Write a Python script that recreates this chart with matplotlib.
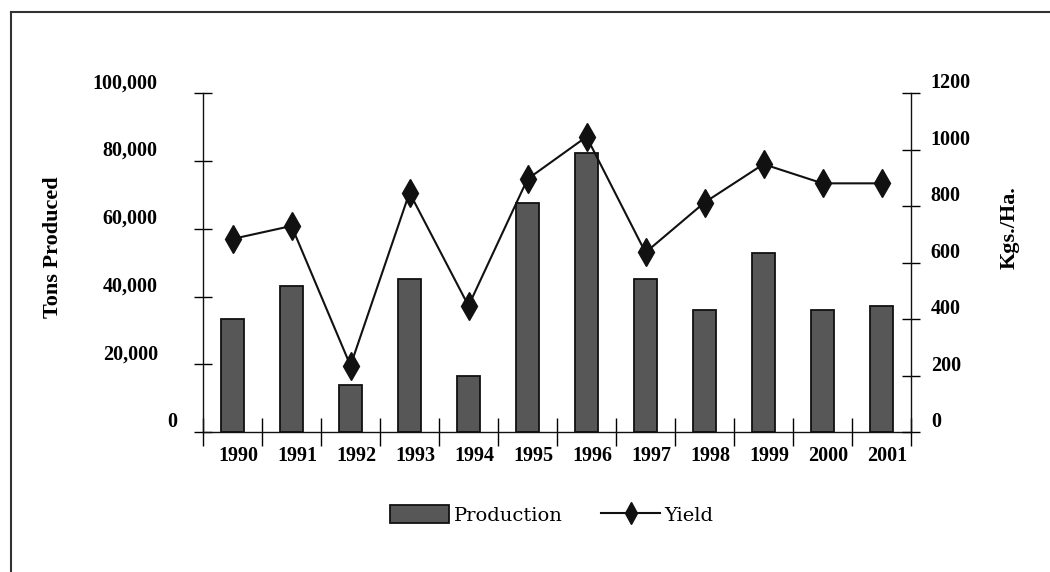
import matplotlib
matplotlib.use('Agg')
import matplotlib.pyplot as plt
import numpy as np
from matplotlib.transforms import ScaledTranslation
from matplotlib.lines import Line2D

# data
years = ['1990', '1991', '1992', '1993', '1994', '1995',
         '1996', '1997', '1998', '1999', '2000', '2001']
production = [33400, 43100, 13900, 45200, 16600, 67500,
              82300, 45100, 36100, 52800, 36100, 37300]
yield_kg = [684, 730, 235, 848, 447, 896, 1046, 636, 813, 949, 881, 881]

left_ticks = [0, 20000, 40000, 60000, 80000, 100000]
left_labels = ['0', '20,000', '40,000', '60,000', '80,000', '100,000']
right_ticks = [0, 200, 400, 600, 800, 1000, 1200]

plt.rcParams['font.family'] = 'Liberation Serif'

W, H = 1050, 572
fig = plt.figure(figsize=(W / 100, H / 100), dpi=100)
ax = fig.add_axes([203 / W, 1 - 432 / H, (911 - 203) / W, (432 - 93.3) / H])
ax2 = ax.twinx()

x = np.arange(len(years))
ax.bar(x, production, width=0.4, color='#575757', edgecolor='#111111',
       linewidth=1.3, zorder=2)
ax2.plot(x, yield_kg, color='#111111', linewidth=1.5, marker='d',
         markersize=14, markerfacecolor='#111111', zorder=3)

ax.set_xlim(-0.5, len(years) - 0.5)
ax.set_ylim(0, 100000)
ax2.set_ylim(0, 1200)

# left axis
ax.set_yticks(left_ticks)
ax.set_yticklabels(left_labels, fontsize=14.5, fontweight='bold', va='bottom')
ax.tick_params(axis='y', direction='inout', length=13, width=1, pad=26)
# the zero label sits further right in the original
zero_shift = ScaledTranslation(19 / 100, 0, fig.dpi_scale_trans)
zlab = ax.get_yticklabels()[0]
zlab.set_transform(zlab.get_transform() + zero_shift)

# right axis
ax2.set_yticks(right_ticks)
ax2.set_yticklabels([str(v) for v in right_ticks], fontsize=14.5,
                    fontweight='bold', va='bottom')
ax2.tick_params(axis='y', direction='inout', length=12.5, width=1, pad=8)

# x axis: separators as minor ticks, labels on majors
ax.set_xticks(x)
ax.set_xticklabels(years, fontsize=14.5, fontweight='bold')
ax.set_xticks(np.arange(-0.5, len(years)), minor=True)
ax.tick_params(axis='x', which='major', length=0, pad=10)
ax.tick_params(axis='x', which='minor', direction='inout', length=19.5, width=1)
shift = ScaledTranslation(6 / 100, 0, fig.dpi_scale_trans)
for lab in ax.get_xticklabels():
    lab.set_transform(lab.get_transform() + shift)

for a in (ax, ax2):
    a.spines['top'].set_visible(False)
    for s in a.spines.values():
        s.set_linewidth(1)
        s.set_color('#111111')
ax2.spines['left'].set_visible(False)
ax2.spines['bottom'].set_visible(False)
ax.spines['right'].set_visible(False)

fig.text(53 / W, 1 - 247 / H, 'Tons Produced', rotation=90, ha='center',
         va='center', fontsize=16, fontweight='bold')
fig.text(1010 / W, 1 - 228 / H, 'Kgs./Ha.', rotation=90, ha='center',
         va='center', fontsize=16, fontweight='bold')

handles = [plt.Rectangle((0, 0), 1, 1, facecolor='#575757', edgecolor='#111111',
                         linewidth=1.3),
           Line2D([0], [0], color='#111111', linewidth=1.5, marker='d',
                  markersize=11, markerfacecolor='#111111')]
fig.legend(handles, ['Production', 'Yield'], loc='center',
           bbox_to_anchor=(552 / W, 1 - 515 / H), ncol=2, frameon=False,
           prop={'family': 'DejaVu Serif', 'size': 14},
           handlelength=3.0, handleheight=1.0, handletextpad=0.25,
           columnspacing=2.0)

# outer frame (cut off at right and bottom in the original)
fig.add_artist(Line2D([11 / W, 1.0], [1 - 12 / H, 1 - 12 / H],
                      transform=fig.transFigure, color='#333333', linewidth=1.5))
fig.add_artist(Line2D([11 / W, 11 / W], [0.0, 1 - 12 / H],
                      transform=fig.transFigure, color='#333333', linewidth=1.5))

fig.savefig('out.png', dpi=100)
